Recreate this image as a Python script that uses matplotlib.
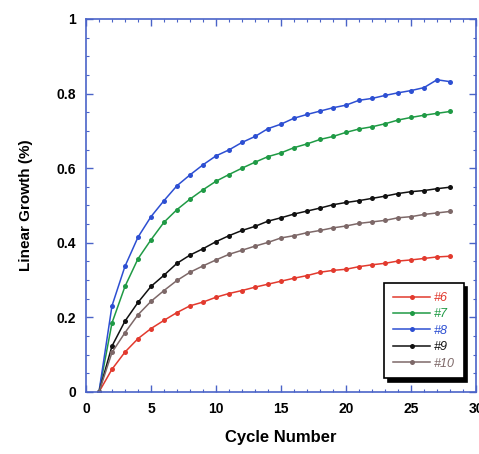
import matplotlib.pyplot as plt
from matplotlib.ticker import MultipleLocator

plt.rcParams['font.family'] = ['Liberation Sans', 'DejaVu Sans']

cycles = list(range(1, 29))

s6 = [0, 0.061, 0.107, 0.143, 0.170, 0.192, 0.213, 0.231, 0.241, 0.254, 0.264, 0.272, 0.281, 0.289,
      0.297, 0.305, 0.312, 0.321, 0.326, 0.329, 0.336, 0.341, 0.345, 0.351, 0.354, 0.358, 0.362, 0.364]
s7 = [0, 0.185, 0.283, 0.357, 0.408, 0.455, 0.489, 0.517, 0.542, 0.565, 0.583, 0.600, 0.616, 0.631,
      0.641, 0.655, 0.665, 0.677, 0.685, 0.696, 0.705, 0.711, 0.719, 0.729, 0.736, 0.742, 0.747, 0.752]
s8 = [0, 0.231, 0.337, 0.415, 0.470, 0.513, 0.553, 0.582, 0.609, 0.633, 0.649, 0.669, 0.685, 0.706,
      0.718, 0.734, 0.744, 0.753, 0.762, 0.769, 0.782, 0.787, 0.795, 0.802, 0.808, 0.816, 0.837, 0.832]
s9 = [0, 0.123, 0.190, 0.240, 0.283, 0.313, 0.345, 0.367, 0.384, 0.403, 0.419, 0.433, 0.444, 0.458,
      0.467, 0.477, 0.485, 0.493, 0.502, 0.508, 0.513, 0.519, 0.525, 0.532, 0.537, 0.540, 0.545, 0.549]
s10 = [0, 0.106, 0.159, 0.207, 0.243, 0.272, 0.299, 0.321, 0.338, 0.354, 0.369, 0.380, 0.391, 0.401,
       0.413, 0.419, 0.427, 0.433, 0.440, 0.445, 0.452, 0.456, 0.460, 0.467, 0.470, 0.476, 0.480, 0.484]

labels = ['#6', '#7', '#8', '#9', '#10']
series = [s6, s7, s8, s9, s10]
colors = ['#e23a2e', '#1f9a45', '#2d4fd2', '#111111', '#7d6868']
frame_color = '#4a63c8'

fig = plt.figure(figsize=(4.79, 4.54), dpi=100)
ax = fig.add_axes([0.1795, 0.1366, 0.8142, 0.8216])

for lab, ys, c in zip(labels, series, colors):
    ax.plot(cycles, ys, color=c, linewidth=1.1, marker='o', markersize=3.6,
            markeredgewidth=0, label=lab)

ax.set_xlim(0, 30)
ax.set_ylim(0, 1)
ax.xaxis.set_major_locator(MultipleLocator(5))
ax.xaxis.set_minor_locator(MultipleLocator(1))
ax.yaxis.set_major_locator(MultipleLocator(0.2))
ax.yaxis.set_minor_locator(MultipleLocator(0.05))
ax.set_yticks([0, 0.2, 0.4, 0.6, 0.8, 1.0], ['0', '0.2', '0.4', '0.6', '0.8', '1'])

for sp in ax.spines.values():
    sp.set_color(frame_color)
    sp.set_linewidth(1.2)
ax.tick_params(which='both', direction='in', top=True, right=True, color=frame_color)
ax.tick_params(which='major', length=5, width=1, labelsize=10, pad=7)
ax.tick_params(which='minor', length=2.5, width=0.8)
for t in ax.get_xticklabels() + ax.get_yticklabels():
    t.set_fontweight('bold')

ax.set_xlabel('Cycle Number', fontsize=12, fontweight='bold', labelpad=10)
ax.set_ylabel('Linear Growth (%)', fontsize=11, fontweight='bold', labelpad=17)

leg = ax.legend(loc='lower right', bbox_to_anchor=(0.985, 0.02), fontsize=9,
                frameon=True, fancybox=False, edgecolor='black', handlelength=3,
                labelspacing=0.35, borderpad=0.7, handletextpad=0.3,
                shadow={'color': 'black', 'alpha': 1, 'ox': 2.5, 'oy': -2.5})
leg.get_frame().set_linewidth(1.2)
for txt, c in zip(leg.get_texts(), colors):
    txt.set_color(c)
    txt.set_fontstyle('italic')

fig.savefig('out.png', dpi=100)
